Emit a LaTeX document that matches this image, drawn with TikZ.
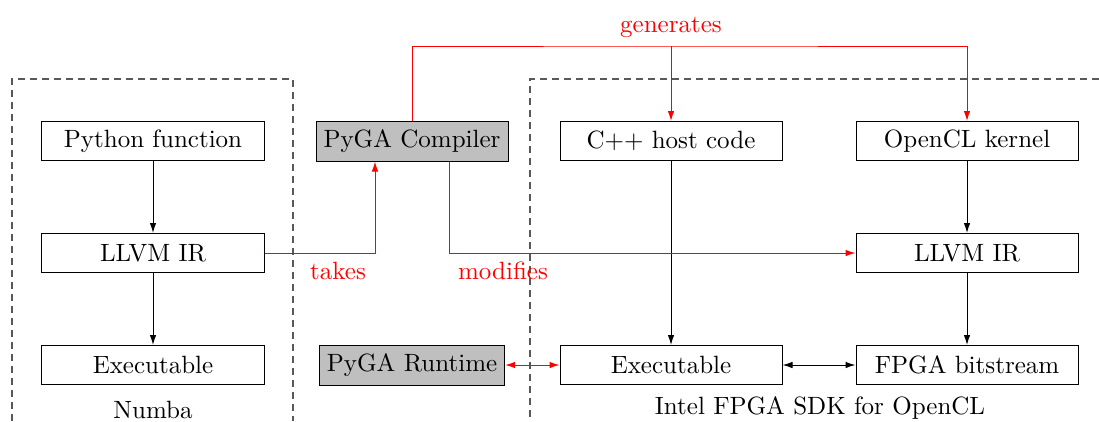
\documentclass[tikz,border=0pt]{standalone}
\usetikzlibrary{positioning,arrows.meta}

\begin{document}
\begin{tikzpicture}[x=0.4pt,y=-0.4pt,
  block/.style={rectangle,draw,minimum width=88.8pt,minimum height=15.6pt,inner sep=2pt},
  pyga/.style={rectangle,draw,fill=lightgray,minimum height=16pt,inner sep=3pt},
  frame/.style={draw=black!65,line width=0.55pt,dash pattern=on 2.8pt off 2pt},
  tip/.tip={Latex[length=4pt,width=2.6pt]},
  flow/.style={draw=red,-tip},
  link/.style={-tip},
  both/.style={tip-tip},
  tag/.style={text=red,inner sep=1pt}]
\useasboundingbox (0,0) rectangle (1099,421);

% Numba side
\node [block] (pyfunc) at (153,141) {Python function};
\node [block,below=28.8pt of pyfunc] (irnumba) {LLVM IR};
\node [block,below=28.8pt of irnumba] (exenumba) {Executable};
\node [below=3pt of exenumba] (numba) {Numba};

% PyGA
\node [pyga] (compiler) at (412,141) {PyGA Compiler};
\node [pyga] (runtime) at (compiler |- exenumba) {PyGA Runtime};

% Intel side
\node [block] (host) at (671,141) {C++ host code};
\node [block] (kernel) at (967,141) {OpenCL kernel};
\node [block,below=28.8pt of kernel] (irintel) {LLVM IR};
\node [block,below=28.8pt of irintel] (bitstream) {FPGA bitstream};
\node [block] (exeintel) at (host |- bitstream) {Executable};
\node (sdk) at (820,408) {Intel FPGA SDK for OpenCL};

% frames
\draw [frame] (12,421) |- (293,79) -- (293,421);
\draw [frame] (1099,79) -| (530,421);

% black arrows
\draw [link] (pyfunc) -- (irnumba);
\draw [link] (irnumba) -- (exenumba);
\draw [link] (kernel) -- (irintel);
\draw [link] (irintel) -- (bitstream);
\draw [link] (host) -- (exeintel);
\draw [both] (exeintel) -- (bitstream);

% red arrows
\coordinate (split) at (671,46);
\draw [flow] (compiler.north) |- (split) -| (kernel.north);
\draw [flow] (split) -- (host.north);
\node [tag,above=2pt of split] (gen) {generates};
\draw [flow] (irnumba.east) -| ([xshift=-14.8pt]compiler.south);
\node [tag] (takes) at (338,271) {takes};
\draw [flow] ([xshift=14.8pt]compiler.south) |- (irintel.west);
\node [tag] (modifies) at (503,271) {modifies};
\draw [both,draw=red] (runtime) -- (exeintel);
\end{tikzpicture}
\end{document}
